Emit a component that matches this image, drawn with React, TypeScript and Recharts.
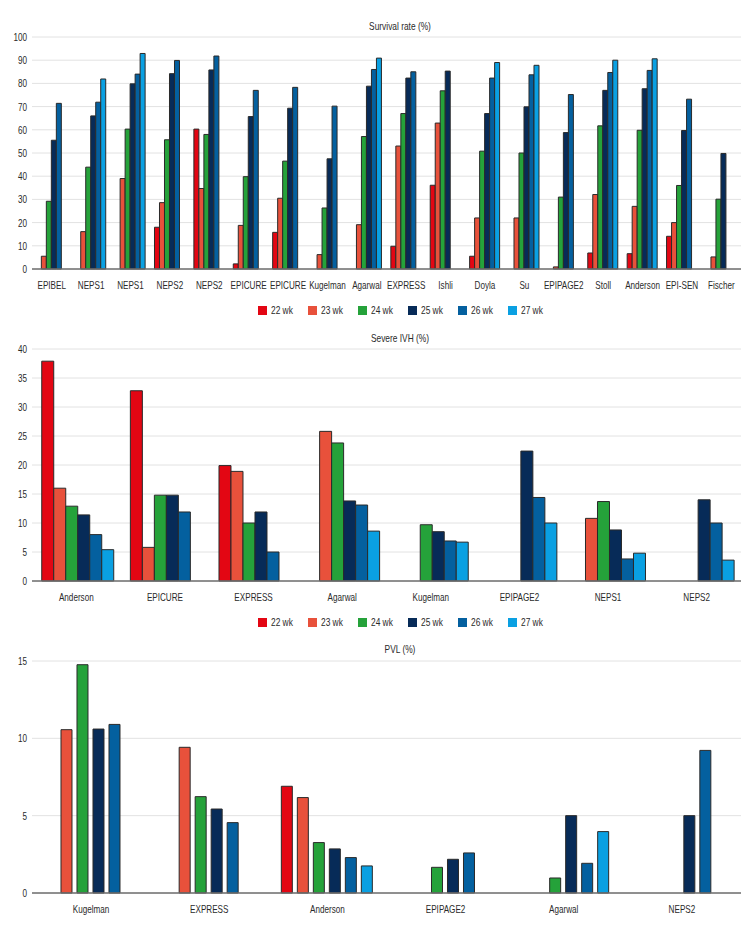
import React from 'react';
import { BarChart, Bar, XAxis, YAxis, CartesianGrid, Legend } from 'recharts';

const WEEKS = ['22 wk', '23 wk', '24 wk', '25 wk', '26 wk', '27 wk'];
const COLORS = ['#e30613', '#e8513b', '#25a23a', '#072b58', '#04609f', '#0aa0e2'];
const KEYS = ['w22', 'w23', 'w24', 'w25', 'w26', 'w27'];

// Survival rate (%)
const survivalStudies = ['EPIBEL', 'NEPS1', 'NEPS1', 'NEPS2', 'NEPS2', 'EPICURE', 'EPICURE', 'Kugelman', 'Agarwal', 'EXPRESS', 'Ishli', 'Doyla', 'Su', 'EPIPAGE2', 'Stoll', 'Anderson', 'EPI-SEN', 'Fischer'];
const survival22 = [null, null, null, 18, 60.3, 2.2, 15.8, null, null, 9.8, 36.1, 5.5, null, null, 6.9, 6.6, 14.1, null];
const survival23 = [5.5, 16.1, 39, 28.6, 34.7, 18.8, 30.5, 6.2, 19.1, 53, 62.9, 22, 22, 0.9, 32.1, 27, 20, 5.2];
const survival24 = [29.2, 43.9, 60.3, 55.7, 58, 39.8, 46.5, 26.3, 57.1, 67, 76.8, 50.8, 50, 31, 61.7, 59.8, 36, 30.1];
const survival25 = [55.5, 66, 79.8, 84.2, 85.8, 65.7, 69.3, 47.5, 78.8, 82.3, 85.3, 67, 69.9, 58.8, 77, 77.7, 59.7, 49.8];
const survival26 = [71.4, 71.9, 84, 89.9, 91.8, 77, 78.3, 70.2, 86, 85, null, 82.3, 83.7, 75.2, 84.7, 85.6, 73.2, null];
const survival27 = [null, 81.9, 92.9, null, null, null, null, null, 90.9, null, null, 89, 87.8, null, 90, 90.6, null, null];
const survivalTicks = [0, 10, 20, 30, 40, 50, 60, 70, 80, 90, 100];

// Severe IVH (%)
const ivhStudies = ['Anderson', 'EPICURE', 'EXPRESS', 'Agarwal', 'Kugelman', 'EPIPAGE2', 'NEPS1', 'NEPS2'];
const ivh22 = [37.9, 32.8, 19.9, null, null, null, null, null];
const ivh23 = [16, 5.8, 18.9, 25.8, null, null, 10.8, null];
const ivh24 = [12.9, 14.8, 10, 23.8, 9.7, null, 13.7, null];
const ivh25 = [11.4, 14.8, 11.9, 13.8, 8.5, 22.4, 8.8, 14];
const ivh26 = [8, 11.9, 5, 13.1, 6.9, 14.4, 3.8, 10];
const ivh27 = [5.4, null, null, 8.6, 6.7, 10, 4.8, 3.6];
const ivhTicks = [0, 5, 10, 15, 20, 25, 30, 35, 40];

// PVL (%)
const pvlStudies = ['Kugelman', 'EXPRESS', 'Anderson', 'EPIPAGE2', 'Agarwal', 'NEPS2'];
const pvl22 = [null, null, 6.9, null, null, null];
const pvl23 = [10.56, 9.42, 6.17, null, null, null];
const pvl24 = [14.76, 6.23, 3.26, 1.66, 0.97, null];
const pvl25 = [10.6, 5.43, 2.85, 2.18, 5, 5];
const pvl26 = [10.9, 4.55, 2.29, 2.59, 1.92, 9.22];
const pvl27 = [null, null, 1.75, null, 3.97, null];
const pvlTicks = [0, 5, 10, 15];

// no condensed face installed, so squeeze a plain sans horizontally
const FONT = "'Liberation Sans', Arial, sans-serif";
const SQUEEZE = 0.74;

const buildRows = (names: string[], series: (number | null)[][]) =>
  names.map((name, i) => {
    const row: any = { name };
    KEYS.forEach((k, s) => { row[k] = series[s][i]; });
    return row;
  });

const XTick = ({ x, y, payload }: any) => (
  <text transform={`translate(${x},${y}) scale(${SQUEEZE},1)`} textAnchor="middle" dy="0.71em"
    fontFamily={FONT} fontSize={11} fill="#2a2a2a">
    {payload.value}
  </text>
);

const YTick = ({ x, y, payload }: any) => (
  <text transform={`translate(${x},${y}) scale(${SQUEEZE},1)`} textAnchor="end" dy="0.355em"
    fontFamily={FONT} fontSize={11} fill="#2a2a2a">
    {payload.value}
  </text>
);

const WeekLegend = () => (
  <div style={{ position: 'relative', height: 22, fontFamily: FONT, fontSize: 11, color: '#2a2a2a' }}>
    {WEEKS.map((w, i) => (
      <div key={w} style={{ position: 'absolute', left: 258 + i * 50, top: 6, height: 10, display: 'flex', alignItems: 'center', whiteSpace: 'nowrap' }}>
        <span style={{ display: 'inline-block', width: 9, height: 9, background: COLORS[i], marginRight: 3.5 }} />
        <span style={{ display: 'inline-block', transform: 'scaleX(0.76)', transformOrigin: 'left center' }}>{w}</span>
      </div>
    ))}
  </div>
);

interface PanelProps {
  top: number;
  height: number;
  marginTop: number;
  rows: any[];
  ticks: number[];
  barGap: number;
  legend: boolean;
  title: string;
  titleY: number;
}

const Panel = ({ top, height, marginTop, rows, ticks, barGap, legend, title, titleY }: PanelProps) => (
  <>
    <div style={{ position: 'absolute', left: 300, width: 200, top: titleY - 8, height: 16, lineHeight: '16px', textAlign: 'center', fontFamily: FONT, fontSize: 11, color: '#2a2a2a', transform: 'scaleX(0.76)' }}>
      {title}
    </div>
    <div style={{ position: 'absolute', left: 0, top }}>
      <BarChart width={756} height={height} data={rows} margin={{ top: marginTop, right: 15, bottom: 0, left: 0 }}
        barCategoryGap="11%" barGap={barGap}>
        <CartesianGrid vertical={false} stroke="#e2e2e2" />
        <XAxis dataKey="name" interval={0} height={30} tickLine={false} tickSize={0} tickMargin={12}
          axisLine={{ stroke: '#6f6f6f', strokeWidth: 1.5 }} tick={<XTick />} />
        <YAxis type="number" domain={[0, ticks[ticks.length - 1]]} ticks={ticks} width={32} axisLine={false}
          tickLine={false} tickSize={0} tickMargin={5} interval={0} tick={<YTick />} />
        {legend && <Legend verticalAlign="bottom" content={<WeekLegend />} />}
        {KEYS.map((k, i) => (
          <Bar key={k} dataKey={k} name={WEEKS[i]} fill={COLORS[i]} stroke="#2a2a2a" strokeWidth={1}
            isAnimationActive={false} />
        ))}
      </BarChart>
    </div>
  </>
);

export default function App() {
  return (
    <div style={{ position: 'absolute', left: 0, top: 0, width: 756, height: 936, background: '#fff', overflow: 'hidden' }}>
      <Panel top={0} height={321} marginTop={37} legend title="Survival rate (%)" titleY={26} barGap={0}
        rows={buildRows(survivalStudies, [survival22, survival23, survival24, survival25, survival26, survival27])}
        ticks={survivalTicks} />
      <Panel top={322} height={311} marginTop={27} legend title="Severe IVH (%)" titleY={338} barGap={0}
        rows={buildRows(ivhStudies, [ivh22, ivh23, ivh24, ivh25, ivh26, ivh27])}
        ticks={ivhTicks} />
      <Panel top={640} height={283} marginTop={21} legend={false} title="PVL (%)" titleY={649} barGap={5}
        rows={buildRows(pvlStudies, [pvl22, pvl23, pvl24, pvl25, pvl26, pvl27])}
        ticks={pvlTicks} />
    </div>
  );
}
